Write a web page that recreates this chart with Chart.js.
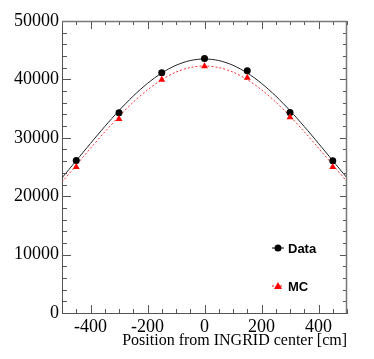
<!DOCTYPE html>
<html><head><meta charset="utf-8">
<script src="https://cdn.jsdelivr.net/npm/chart.js@4/dist/chart.umd.min.js"></script>
<style>html,body{margin:0;padding:0;background:#fff}#wrap{width:374px;height:359px}</style>
</head><body><div id="wrap"><canvas id="c" width="374" height="359"></canvas></div>
<script>
// Measured positions [cm]
const positions = [-450, -300, -150, 0, 150, 300, 450];
const dataCounts = [26100, 34300, 41150, 43600, 41500, 34350, 26050];
const mcCounts = [25000, 33200, 39950, 42250, 40300, 33500, 25000];
// Fit curves
const curveX = [-500,-450,-400,-350,-300,-250,-200,-150,-100,-50,0,50,100,150,200,250,300,350,400,450,500];
const dataFit = [23140,26090,29040,31930,34660,37150,39320,41100,42420,43230,43500,43230,42420,41100,39320,37150,34660,31930,29040,26090,23140];
const mcFit = [22400,25300,28200,31000,33650,36100,38200,39950,41250,42030,42300,42030,41250,39960,38230,36120,33700,31050,28240,25370,22500];
const xTicks = [-400, -200, 0, 200, 400];
const yTicks = [0, 10000, 20000, 30000, 40000, 50000];
const legendItems = ['Data', 'MC'];

const xy = (xs, ys) => xs.map((x, i) => ({x, y: ys[i]}));

const tickPlugin = {
  id: 'rootTicks',
  afterDraw(chart) {
    const {ctx, chartArea: a, scales: {x, y}} = chart;
    ctx.save();
    ctx.strokeStyle = '#555';
    ctx.lineWidth = 1;
    ctx.beginPath();
    for (let v = -500; v <= 500; v += 50) {
      const px = Math.round(x.getPixelForValue(v)) + 0.5;
      const len = (v % 200 === 0) ? 8 : 4;
      ctx.moveTo(px, a.bottom); ctx.lineTo(px, a.bottom - len);
      ctx.moveTo(px, a.top); ctx.lineTo(px, a.top + len);
    }
    for (let v = 0; v <= 50000; v += 2000) {
      const py = Math.round(y.getPixelForValue(v)) + 0.5;
      const major = v % 10000 === 0;
      ctx.moveTo(a.left, py); ctx.lineTo(a.left + (major ? 9 : 5), py);
      ctx.moveTo(a.right, py); ctx.lineTo(a.right - (major ? 7 : 4), py);
    }
    ctx.stroke();
    ctx.strokeStyle = '#777';
    ctx.lineWidth = 1.5;
    ctx.beginPath();
    ctx.moveTo(a.left, a.top + 0.5); ctx.lineTo(a.right, a.top + 0.5);
    ctx.moveTo(a.right - 0.5, a.top); ctx.lineTo(a.right - 0.5, a.bottom);
    ctx.stroke();

    // legend
    const lx = a.right - 69;
    const ly = [a.bottom - 65, a.bottom - 27];
    ctx.font = 'bold 13px "Liberation Sans", Arial, sans-serif';
    ctx.textBaseline = 'middle';
    ctx.textAlign = 'left';
    // Data
    ctx.strokeStyle = '#000'; ctx.lineWidth = 1; ctx.setLineDash([]);
    ctx.beginPath(); ctx.moveTo(lx - 6, ly[0]); ctx.lineTo(lx + 6, ly[0]); ctx.stroke();
    ctx.fillStyle = '#000';
    ctx.beginPath(); ctx.arc(lx, ly[0], 3.5, 0, Math.PI * 2); ctx.fill();
    ctx.fillText(legendItems[0], lx + 10, ly[0] + 1);
    // MC
    ctx.strokeStyle = '#f00'; ctx.setLineDash([2, 2]);
    ctx.beginPath(); ctx.moveTo(lx - 6, ly[1]); ctx.lineTo(lx + 6, ly[1]); ctx.stroke();
    ctx.setLineDash([]);
    ctx.fillStyle = '#f00';
    ctx.beginPath(); ctx.moveTo(lx, ly[1] - 4); ctx.lineTo(lx + 4, ly[1] + 3); ctx.lineTo(lx - 4, ly[1] + 3); ctx.closePath(); ctx.fill();
    ctx.fillStyle = '#000';
    ctx.fillText(legendItems[1], lx + 10, ly[1] + 1);
    ctx.restore();
  }
};

new Chart(document.getElementById('c'), {
  type: 'scatter',
  data: {
    datasets: [
      {label: 'Data fit', data: xy(curveX, dataFit), showLine: true, borderColor: '#222', borderWidth: 1, pointRadius: 0, tension: 0.3, fill: false, order: 3},
      {label: 'MC fit', data: xy(curveX, mcFit), showLine: true, borderColor: '#ff3030', borderWidth: 1, borderDash: [2, 2], pointRadius: 0, tension: 0.3, fill: false, order: 2},
      {label: 'Data', data: xy(positions, dataCounts), showLine: false, pointStyle: 'circle', pointRadius: 3.5, backgroundColor: '#000', borderColor: '#000', borderWidth: 0, order: 1},
      {label: 'MC', data: xy(positions, mcCounts), showLine: false, pointStyle: 'triangle', pointRadius: 4, backgroundColor: '#f00', borderColor: '#f00', borderWidth: 0, order: 0}
    ]
  },
  options: {
    responsive: false,
    animation: false,
    layout: {padding: {top: 21, right: 27, left: 0, bottom: 0}},
    plugins: {legend: {display: false}, tooltip: {enabled: false}},
    scales: {
      x: {
        type: 'linear', min: -500, max: 500,
        grid: {display: false, drawTicks: false},
        border: {display: true, color: '#555', width: 1},
        afterBuildTicks: (ax) => { ax.ticks = xTicks.map(v => ({value: v})); },
        afterFit: (ax) => { ax.height = 46; },
        ticks: {color: '#000', padding: 3, maxRotation: 0, autoSkip: false, callback: (v) => String(v), font: {family: '"Liberation Serif", "Times New Roman", serif', size: 18}},
        title: {display: true, text: 'Position from INGRID center [cm]', align: 'end', color: '#000', padding: {top: 0, bottom: 9}, font: {family: '"Liberation Serif", "Times New Roman", serif', size: 16}}
      },
      y: {
        type: 'linear', min: 0, max: 50000,
        grid: {display: false, drawTicks: false},
        border: {display: true, color: '#555', width: 1},
        afterBuildTicks: (ax) => { ax.ticks = yTicks.map(v => ({value: v})); },
        afterFit: (ax) => { ax.width = 62; },
        ticks: {color: '#000', padding: 3, autoSkip: false, callback: (v) => String(v), font: {family: '"Liberation Serif", "Times New Roman", serif', size: 18}}
      }
    }
  },
  plugins: [tickPlugin]
});
</script>
</body></html>
